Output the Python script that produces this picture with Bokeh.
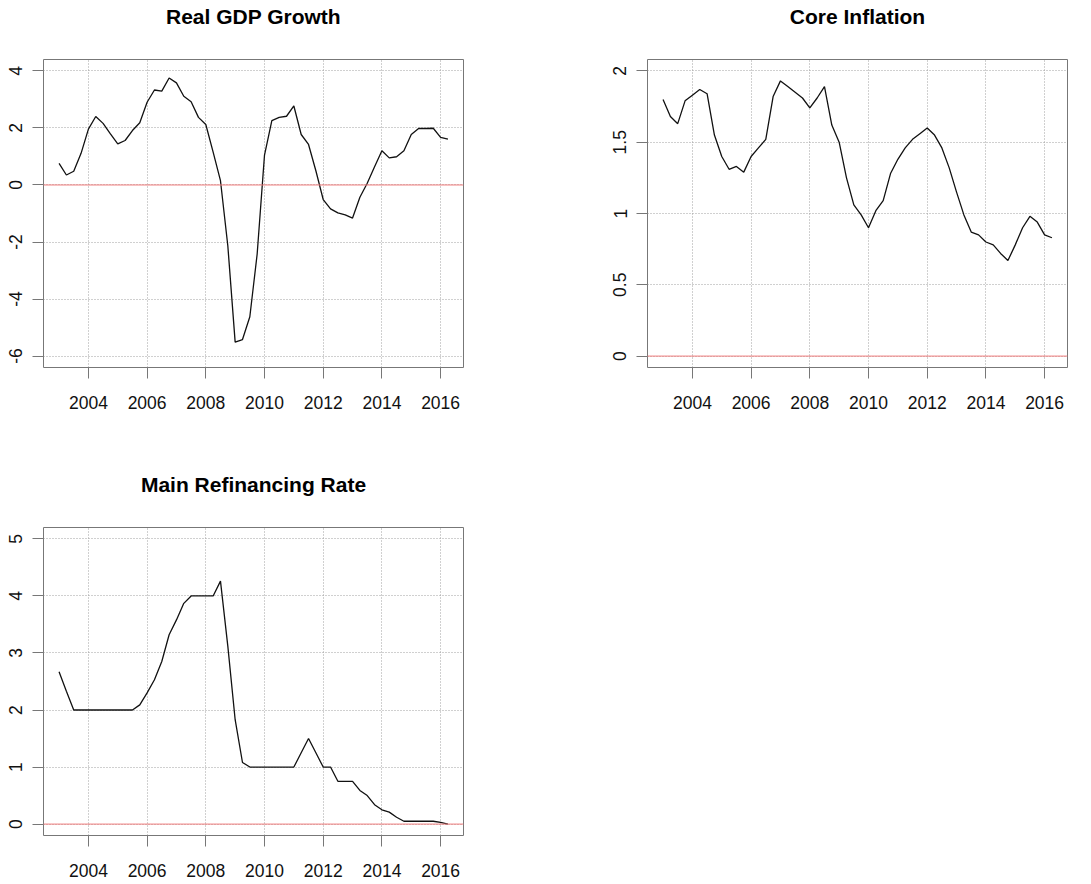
from bokeh.plotting import figure
from bokeh.models import Range1d, FixedTicker, Span, Title
from bokeh.layouts import column, row
from bokeh.embed import file_html
from bokeh.resources import INLINE

# ---------------- data (quarterly, 2003Q1 .. 2016Q2) ----------------
START_YEAR = 2003
N_QUARTERS = 54
quarters = [START_YEAR + q / 4 for q in range(N_QUARTERS)]

gdp_growth = [
    0.76, 0.35, 0.48, 1.11, 1.96, 2.40, 2.16, 1.79, 1.44, 1.56,
    1.91, 2.18, 2.90, 3.33, 3.29, 3.75, 3.58, 3.11, 2.92, 2.37,
    2.12, 1.15, 0.15, -2.13, -5.51, -5.42, -4.62, -2.42, 1.05, 2.26,
    2.37, 2.41, 2.77, 1.77, 1.42, 0.50, -0.51, -0.84, -0.98, -1.05,
    -1.16, -0.43, 0.06, 0.64, 1.20, 0.95, 0.99, 1.20, 1.77, 1.98,
    1.98, 1.99, 1.67, 1.61,
]

core_inflation = [
    1.80, 1.68, 1.63, 1.79, 1.83, 1.87, 1.84, 1.55, 1.40, 1.31,
    1.33, 1.29, 1.40, 1.46, 1.52, 1.82, 1.93, 1.89, 1.85, 1.81,
    1.74, 1.81, 1.89, 1.62, 1.50, 1.25, 1.06, 0.99, 0.90, 1.02,
    1.09, 1.28, 1.38, 1.46, 1.52, 1.56, 1.60, 1.55, 1.46, 1.32,
    1.15, 0.99, 0.87, 0.85, 0.80, 0.78, 0.72, 0.67, 0.78, 0.90,
    0.98, 0.94, 0.85, 0.83,
]

refi_rate = [
    2.67, 2.33, 2.00, 2.00, 2.00, 2.00, 2.00, 2.00, 2.00, 2.00,
    2.00, 2.09, 2.30, 2.53, 2.85, 3.32, 3.58, 3.87, 4.00, 4.00,
    4.00, 4.00, 4.26, 3.12, 1.83, 1.08, 1.00, 1.00, 1.00, 1.00,
    1.00, 1.00, 1.00, 1.25, 1.50, 1.25, 1.00, 1.00, 0.75, 0.75,
    0.75, 0.59, 0.50, 0.34, 0.25, 0.21, 0.12, 0.05, 0.05, 0.05,
    0.05, 0.05, 0.03, 0.00,
]

titles = ["Real GDP Growth", "Core Inflation", "Main Refinancing Rate"]
x_ticks = [2004, 2006, 2008, 2010, 2012, 2014, 2016]
x_tick_labels = ["2004", "2006", "2008", "2010", "2012", "2014", "2016"]

gdp_ylim = (-6, 4)
gdp_y_ticks = [-6, -4, -2, 0, 2, 4]
gdp_y_labels = ["-6", "-4", "-2", "0", "2", "4"]

infl_ylim = (0, 2)
infl_y_ticks = [0, 0.5, 1, 1.5, 2]
infl_y_labels = ["0", "0.5", "1", "1.5", "2"]

refi_ylim = (0, 5)
refi_y_ticks = [0, 1, 2, 3, 4, 5]
refi_y_labels = ["0", "1", "2", "3", "4", "5"]

# ---------------- styling ----------------
FONT = "Liberation Sans"
BOX = "#777777"
GRID = "#a0a0a0"
RED = "#f07c7c"


def padded(lo, hi, frac=0.04):
    d = (hi - lo) * frac
    return Range1d(lo - d, hi + d)


def make_panel(title, yvals, ylim, yticks, ylabels, borders, label_standoff_x=17):
    left, right, top, bottom = borders
    p = figure(
        title=None,
        frame_width=420, frame_height=308,
        min_border_left=left, min_border_right=right,
        min_border_top=top, min_border_bottom=bottom,
        x_range=padded(min(quarters), max(quarters)),
        y_range=padded(*ylim),
        output_backend="svg", toolbar_location=None,
        background_fill_color="white", border_fill_color="white",
    )
    # spacer between frame and title, then the title itself
    p.add_layout(Title(text=" ", text_font_size="27px", standoff=0,
                       text_font=FONT), "above")
    p.add_layout(Title(text=title, align="center", text_font=FONT,
                       text_font_size="21px", text_font_style="bold",
                       text_color="black", standoff=0), "above")

    p.outline_line_color = BOX
    p.outline_line_width = 1

    # axes
    p.xaxis.ticker = FixedTicker(ticks=x_ticks)
    p.xaxis.major_label_overrides = dict(zip(x_ticks, x_tick_labels))
    p.yaxis.ticker = FixedTicker(ticks=yticks)
    p.yaxis.major_label_overrides = dict(zip(yticks, ylabels))
    p.yaxis.major_label_orientation = "vertical"
    for ax in (p.xaxis, p.yaxis):
        ax.axis_line_color = None
        ax.major_tick_line_color = BOX
        ax.major_tick_out = 11
        ax.major_tick_in = 0
        ax.minor_tick_line_color = None
        ax.major_label_text_font = FONT
        ax.major_label_text_font_size = "17.5px"
        ax.major_label_text_color = "#111111"
    p.xaxis.major_label_standoff = label_standoff_x
    p.yaxis.major_label_standoff = 10

    # grid
    p.xgrid.ticker = FixedTicker(ticks=x_ticks)
    p.ygrid.ticker = FixedTicker(ticks=yticks)
    for g in (p.xgrid, p.ygrid):
        g.grid_line_color = GRID
        g.grid_line_dash = "1 2"
        g.grid_line_width = 1

    p.add_layout(Span(location=0, dimension="width", line_color=RED, line_width=1))
    p.line(quarters, yvals, line_color="#111111", line_width=1.3)
    return p


p1 = make_panel(titles[0], gdp_growth, gdp_ylim, gdp_y_ticks, gdp_y_labels, (43, 82, 59, 101))
p2 = make_panel(titles[1], core_inflation, infl_ylim, infl_y_ticks, infl_y_labels, (102, 20, 59, 101))
p3 = make_panel(titles[2], refi_rate, refi_ylim, refi_y_ticks, refi_y_labels, (43, 82, 59, 49),
                label_standoff_x=17)

layout = column(row(p1, p2), p3)

open("out.html", "w").write(file_html(layout, INLINE))
